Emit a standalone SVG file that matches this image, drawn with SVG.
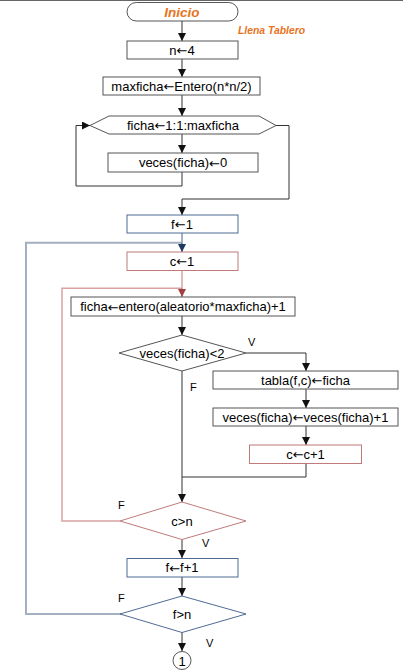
<svg xmlns="http://www.w3.org/2000/svg" width="403" height="671" viewBox="0 0 403 671">
<style>
text{font-family:"Liberation Sans",Arial,sans-serif;font-size:13px;fill:#000;text-anchor:middle;dominant-baseline:central}
.ar{font-family:"DejaVu Sans",sans-serif;font-size:13px}
.box{fill:#fff;stroke:#555;stroke-width:1}
.bl{fill:#fff;stroke:#4f6b94;stroke-width:1}
.rd{fill:#fff;stroke:#c07a7a;stroke-width:1}
.ln{fill:none;stroke:#333;stroke-width:1}
.lnb{fill:none;stroke:#a3b0c2;stroke-width:2}
.lnr{fill:none;stroke:#d9a3a3;stroke-width:1.5}
text.lbl{font-size:11px;text-anchor:start}
text.or{fill:#e8731c;font-weight:bold;font-style:italic}
text.t1{font-size:13.5px}
text.t2{font-size:10.4px}
</style>
<defs>
<marker id="a" viewBox="0 0 10 10" refX="10" refY="5" markerWidth="8" markerHeight="8" markerUnits="userSpaceOnUse" orient="auto"><path d="M0,0L10,5L0,10z" fill="#111"/></marker>
<marker id="ab" viewBox="0 0 10 10" refX="10" refY="5" markerWidth="8" markerHeight="8" markerUnits="userSpaceOnUse" orient="auto"><path d="M0,0L10,5L0,10z" fill="#1f3a60"/></marker>
<marker id="ar" viewBox="0 0 10 10" refX="10" refY="5" markerWidth="8" markerHeight="8" markerUnits="userSpaceOnUse" orient="auto"><path d="M0,0L10,5L0,10z" fill="#a04040"/></marker>
</defs>
<line x1="0" y1="0.5" x2="403" y2="0.5" stroke="#666" stroke-width="1"/>
<g id="connectors">
<path class="ln" d="M182,21V41" marker-end="url(#a)"/>
<path class="ln" d="M182,59V77" marker-end="url(#a)"/>
<path class="ln" d="M182,95V116" marker-end="url(#a)"/>
<path class="ln" d="M182,134V153" marker-end="url(#a)"/>
<path class="ln" d="M182,172V186H76V125.5H90" marker-end="url(#a)"/>
<path class="ln" d="M276,125.5H289V199H182V215" marker-end="url(#a)"/>
<path class="lnb" d="M182,233V242.7"/>
<path class="lnb" d="M121,614H26V242.7H182"/>
<path class="ln" d="M182,242.7V252" stroke="#1f3a60" marker-end="url(#ab)"/>
<path class="lnr" d="M182,270V288.3"/>
<path class="lnr" d="M120,521H62V288.3H182"/>
<path d="M182,288.3V297" fill="none" stroke="#a04040" stroke-width="1" marker-end="url(#ar)"/>
<path class="ln" d="M182,316V335" marker-end="url(#a)"/>
<path class="ln" d="M246,353H306V371" marker-end="url(#a)"/>
<path class="ln" d="M306,389V408" marker-end="url(#a)"/>
<path class="ln" d="M306,426V445" marker-end="url(#a)"/>
<path class="ln" d="M306,463V477H182"/>
<path class="ln" d="M182,371V502" marker-end="url(#a)"/>
<path class="ln" d="M182,539V558" marker-end="url(#a)"/>
<path class="ln" d="M182,577V596" marker-end="url(#a)"/>
<path class="ln" d="M182,632V651" marker-end="url(#a)"/>
</g>
<g id="inicio"><rect x="127" y="2.5" width="111" height="18.5" rx="9.25" class="box"/><text x="182" y="12" class="or t1">Inicio</text></g>
<g id="titulo"><text x="271.5" y="30" class="or t2">Llena Tablero</text></g>
<g id="n4"><rect x="127" y="41" width="111" height="18" class="box"/><text x="182" y="50">n<tspan class="ar">←</tspan>4</text></g>
<g id="maxficha"><rect x="103" y="77" width="157" height="18" class="box"/><text x="181.5" y="86">maxficha<tspan class="ar">←</tspan>Entero(n*n/2)</text></g>
<g id="para"><path d="M90,125.5L109,116H259L276,125.5L259,134H109Z" class="box"/><text x="183" y="125">ficha<tspan class="ar">←</tspan>1:1:maxficha</text></g>
<g id="veces0"><rect x="108" y="153" width="150" height="19" class="box"/><text x="183" y="162.5">veces(ficha)<tspan class="ar">←</tspan>0</text></g>
<g id="f1"><rect x="127" y="215" width="111" height="18" class="bl"/><text x="182" y="224">f<tspan class="ar">←</tspan>1</text></g>
<g id="c1"><rect x="127" y="252" width="111" height="18.5" class="rd"/><text x="182" y="261">c<tspan class="ar">←</tspan>1</text></g>
<g id="ficha"><rect x="71" y="297" width="224" height="19" class="box"/><text x="183" y="306.5">ficha<tspan class="ar">←</tspan>entero(aleatorio*maxficha)+1</text></g>
<g id="dec1"><path d="M119,353L182,335L246,353L182,371Z" class="box"/><text x="182" y="353">veces(ficha)&lt;2</text><text x="248" y="341.5" class="lbl">V</text><text x="190" y="386.5" class="lbl">F</text></g>
<g id="tabla"><rect x="213" y="371" width="185" height="18" class="box"/><text x="305.5" y="380">tabla(f,c)<tspan class="ar">←</tspan>ficha</text></g>
<g id="vecesinc"><rect x="213" y="408" width="185" height="18" class="box"/><text x="305.5" y="417">veces(ficha)<tspan class="ar">←</tspan>veces(ficha)+1</text></g>
<g id="cinc"><rect x="249.5" y="445" width="112" height="18.5" class="rd"/><text x="305.5" y="454">c<tspan class="ar">←</tspan>c+1</text></g>
<g id="cn"><path d="M120,521L182,502L246,521L182,539.5Z" class="rd"/><text x="182" y="521">c&gt;n</text><text x="118" y="505" class="lbl">F</text><text x="202" y="543" class="lbl">V</text></g>
<g id="finc"><rect x="127" y="558.5" width="111" height="18.5" class="bl"/><text x="182" y="567.5">f<tspan class="ar">←</tspan>f+1</text></g>
<g id="fn"><path d="M120,614L182,596L246,614L182,632.5Z" class="bl"/><text x="182" y="614">f&gt;n</text><text x="118" y="598" class="lbl">F</text><text x="206" y="643" class="lbl">V</text></g>
<g id="conector"><circle cx="182" cy="660.5" r="9" class="box" stroke="#333"/><text x="182" y="661">1</text></g>
</svg>
